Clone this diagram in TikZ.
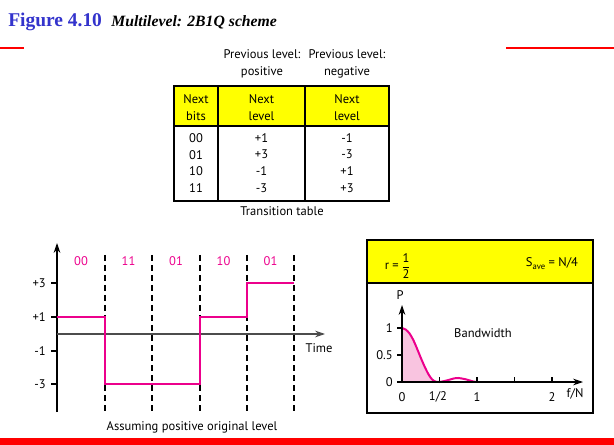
\documentclass[tikz,border=0pt]{standalone}
\usepackage{fontspec}
\setmainfont{PT Sans}
\newfontfamily\titlefont{Liberation Serif}
\usetikzlibrary{arrows.meta}

\definecolor{sigpink}{RGB}{236,0,140}
\definecolor{fillpink}{RGB}{249,196,224}
\definecolor{hdryellow}{RGB}{255,255,0}
\definecolor{titleblue}{RGB}{51,51,204}
\definecolor{barred}{RGB}{255,0,0}

\tikzset{
  txt/.style={inner sep=0.75pt,font=\fontsize{9.4}{12.7}\selectfont,align=center},
  bitlbl/.style={txt,color=sigpink},
  tablerule/.style={line width=1.1pt},
  dashline/.style={line width=0.8pt,dash pattern={on 4.5pt off 3pt}},
  signal/.style={color=sigpink,line width=2pt},
  axisarrow/.style={line width=0.8pt,-{Stealth[length=7.5pt,width=5pt]}},
}

\begin{document}
\begin{tikzpicture}[x=0.75pt,y=0.75pt,yscale=-1,xscale=1]
\useasboundingbox (0,0) rectangle (614,445);

% Title
\node (title) [anchor=base west,inner sep=0pt] at (8,27) {\titlefont\bfseries\color{titleblue}\fontsize{14.6}{16}\selectfont Figure 4.10\hspace{7pt}{\fontsize{11.8}{14}\selectfont\itshape\color{black}Multilevel: 2B1Q scheme}};
%Straight Lines
\draw [color=barred,line width=0.8pt] (0,48) -- (24,48) ;
\draw [color=barred,line width=0.8pt] (506,48) -- (614,48) ;
%Shape: Rectangle
\fill [color=barred] (0,438) rectangle (614,445) ;

% Transition table
\fill [color=hdryellow] (174,86) rectangle (389,126) ;
\draw [tablerule] (174,86) rectangle (389,201) ;
\draw [tablerule] (174,126) -- (389,126) ;
\draw [tablerule] (218,86) -- (218,201) ;
\draw [tablerule] (305,86) -- (305,201) ;
% Text Node
\node (prevpos) [txt] at (262,63.5) {Previous level:\\positive};
\node (prevneg) [txt] at (347,63.5) {Previous level:\\negative};
\node (hbits) [txt] at (196,107.5) {Next\\bits};
\node (hpos) [txt] at (261.5,107.5) {Next\\level};
\node (hneg) [txt] at (347,107.5) {Next\\level};
\node (cbits) [txt,font=\fontsize{9.4}{12.6}\selectfont] at (196,163) {00\\01\\10\\11};
\node (cpos) [txt,font=\fontsize{9.4}{12.6}\selectfont] at (261.5,163) {+1\\+3\\-1\\-3};
\node (cneg) [txt,font=\fontsize{9.4}{12.6}\selectfont] at (347,163) {-1\\-3\\+1\\+3};
\node (ttable) [txt] at (282,211) {Transition table};

% Signal plot
\coordinate (ybot) at (57,412);
\coordinate (ytop) at (57,243);
\coordinate (tbeg) at (57,334);
\coordinate (tend) at (325,334);
\draw [axisarrow] (ybot) -- (ytop) ;
\draw [axisarrow,color=black!70] (tbeg) -- (tend) ;
%Straight Lines
\draw [line width=0.8pt] (51,283) -- (57,283) ;
\draw [line width=0.8pt] (51,317) -- (57,317) ;
\draw [line width=0.8pt] (51,351) -- (57,351) ;
\draw [line width=0.8pt] (51,384) -- (57,384) ;
\node (lp3) [txt,anchor=east] at (47,283) {+3};
\node (lp1) [txt,anchor=east] at (47,317) {+1};
\node (lm1) [txt,anchor=east] at (47,351) {-1};
\node (lm3) [txt,anchor=east] at (47,384) {-3};
%Straight Lines
\draw [dashline] (105,255) -- (105,413) ;
\draw [dashline] (152,255) -- (152,413) ;
\draw [dashline] (200,255) -- (200,413) ;
\draw [dashline] (247,255) -- (247,413) ;
\draw [dashline] (294,255) -- (294,413) ;
\draw [signal] (57,317) -- (105,317) -- (105,384) -- (200,384) -- (200,317) -- (247,317) -- (247,283) -- (294,283) ;
% Text Node
\node (b1) [bitlbl] at (81,261) {00};
\node (b2) [bitlbl] at (128.5,261) {11};
\node (b3) [bitlbl] at (176,261) {01};
\node (b4) [bitlbl] at (223.5,261) {10};
\node (b5) [bitlbl] at (270.5,261) {01};
\node (time) [txt] at (319,348) {Time};
\node (assume) [txt] at (192,427) {Assuming positive original level};

% Bandwidth panel
\fill [color=hdryellow] (367,240) rectangle (593,283) ;
\draw [line width=1.1pt] (367,240) rectangle (593,413) ;
\draw [line width=1.1pt] (367,283) -- (593,283) ;
\node (ratio) [txt,anchor=east] at (400,266) {r =};
\node (frac) [txt,inner sep=0pt] at (406,266) {$\displaystyle\frac{\mbox{1}}{\mbox{2}}$};
\node (save) [txt] at (552,264) {S\raisebox{-0.45ex}{\fontsize{6.5}{7}\selectfont ave} = N/4};
%Shape: Curve
\fill [color=fillpink] (402,382) -- plot [smooth] coordinates {(402,328) (405.75,329.6) (409.5,333.4) (413.25,339.9) (417,348.5) (420.75,357.7) (424.5,366.3) (428.25,373.9) (432,379.3) (435.75,381.7) (439.5,382)} -- cycle ;
\draw [signal,line width=1.5pt] plot [smooth] coordinates {(402,328) (405.75,329.6) (409.5,333.4) (413.25,339.9) (417,348.5) (420.75,357.7) (424.5,366.3) (428.25,373.9) (432,379.3) (435.75,381.7) (439.5,382) (447,380.4) (454.5,378.3) (458.25,378) (465.75,379.3) (473.25,381.5) (477,382)} ;
\coordinate (orig) at (402,382);
\coordinate (ptop) at (402,305);
\coordinate (fend) at (583,382);
\draw [axisarrow] (orig) -- (ptop) ;
\draw [axisarrow] (orig) -- (fend) ;
%Straight Lines
\draw [line width=0.8pt] (397,328) -- (402,328) ;
\draw [line width=0.8pt] (397,355) -- (402,355) ;
\draw [line width=0.8pt] (397,382) -- (402,382) ;
\draw [line width=0.8pt] (439.5,382) -- (439.5,377) ;
\draw [line width=0.8pt] (477,382) -- (477,377) ;
\draw [line width=0.8pt] (514.5,382) -- (514.5,377) ;
\draw [line width=0.8pt] (552,382) -- (552,377) ;
% Text Node
\node (pl) [txt] at (400,295) {P};
\node (py1) [txt,anchor=east] at (394,328) {1};
\node (py05) [txt,anchor=east] at (394,355) {0.5};
\node (py0) [txt,anchor=east] at (394,382) {0};
\node (fx0) [txt] at (402,397) {0};
\node (fx12) [txt] at (438,397) {1/2};
\node (fx1) [txt] at (477,397) {1};
\node (fx2) [txt] at (552,397) {2};
\node (fn) [txt] at (575,394) {f/N};
\node (bw) [txt] at (483,333) {Bandwidth};

\end{tikzpicture}
\end{document}
